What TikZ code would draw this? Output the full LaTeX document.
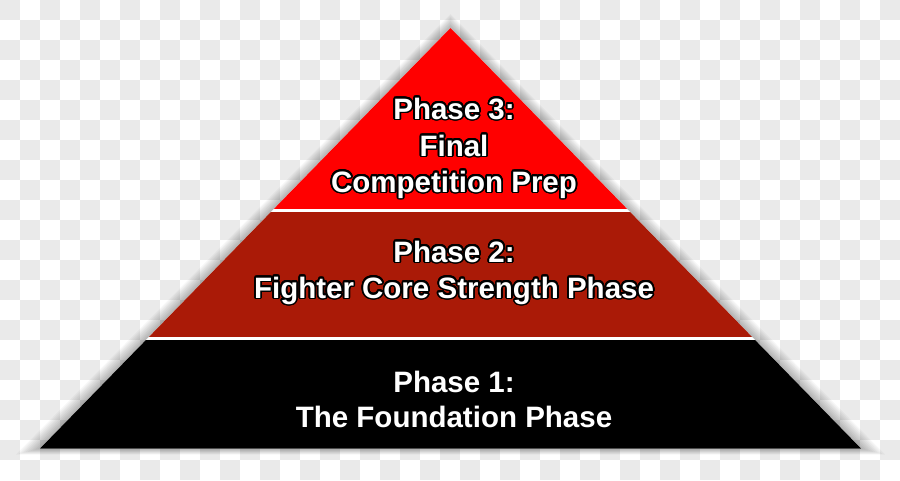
\documentclass[tikz,border=0pt]{standalone}
\usepackage{fontspec}
\setmainfont{Liberation Sans}
\usepackage{contour}
\contourlength{1.7pt}
\contournumber{24}
\definecolor{checkgrey}{RGB}{234,234,234}
\definecolor{topred}{RGB}{255,0,0}
\definecolor{midred}{RGB}{170,26,7}
\definecolor{basedark}{RGB}{0,0,0}
\tikzset{
  phasetext/.style={anchor=base, inner sep=0pt, text=white,
    font=\fontsize{29.5}{34}\selectfont\bfseries},
}
\newcommand{\outl}[1]{\contour{black}{#1}}
\begin{document}
\begin{tikzpicture}[x=1pt,y=-1pt]
\useasboundingbox (0,0) rectangle (900,480);
% checkerboard background
\fill[white] (0,0) rectangle (900,480);
\foreach \i in {0,...,44}{
  \foreach \j in {0,...,23}{
    \pgfmathtruncatemacro{\myparity}{mod(\i+\j,2)}
    \ifnum\myparity=0
      \fill[checkgrey] (\i*20,\j*20) rectangle ++(20,20);
    \fi
  }
}
% soft shadow halo
\foreach \s in {1,...,10}{
  \fill[black, opacity=0.03, line join=round]
    (450.5,28-1.4*\s) -- (861+2.4*\s,448.5+0.6*\s) -- (40-2.4*\s,448.5+0.6*\s) -- cycle;
}
% pyramid bands
\coordinate (apex) at (450.5,28);
\coordinate (bl) at (40,448.5);
\coordinate (br) at (861,448.5);
\begin{scope}
  \clip (apex) -- (br) -- (bl) -- cycle;
  \fill[white] (0,0) rectangle (900,480);
  \fill[topred] (0,0) rectangle (900,208.8);
  \fill[midred] (0,211.6) rectangle (900,337.4);
  \fill[basedark] (0,340.2) rectangle (900,480);
\end{scope}
% texts
\node[phasetext] (p3a) at (454,119) {\outl{Phase 3:}};
\node[phasetext] (p3b) at (454,156) {\outl{Final}};
\node[phasetext] (p3c) at (454,192) {\outl{Competition Prep}};
\node[phasetext] (p2a) at (454,262) {\outl{Phase 2:}};
\node[phasetext] (p2b) at (454,298) {\outl{Fighter Core Strength Phase}};
\node[phasetext] (p1a) at (454,392) {\outl{Phase 1:}};
\node[phasetext] (p1b) at (454,427) {\outl{The Foundation Phase}};
\end{tikzpicture}
\end{document}
